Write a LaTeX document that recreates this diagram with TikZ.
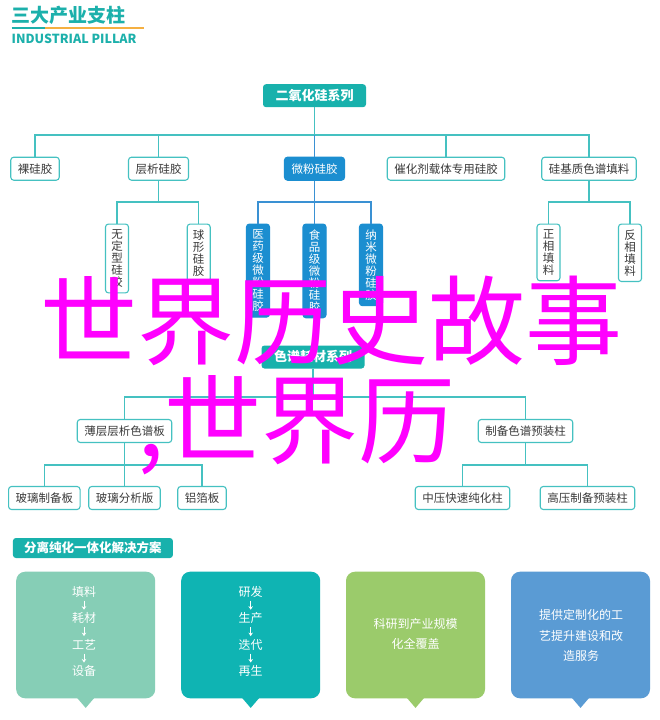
\documentclass[tikz,border=0pt]{standalone}
\usepackage{fontspec}
\setmainfont{Noto Sans CJK SC}
\usetikzlibrary{arrows.meta,positioning}

\definecolor{tealline}{HTML}{45C1C1}
\definecolor{tealfill}{HTML}{18B1AC}
\definecolor{bluefill}{HTML}{1B8ED0}
\definecolor{blueline}{HTML}{3A91D3}
\definecolor{headteal}{HTML}{1CB0AB}
\definecolor{headorange}{HTML}{F5B041}
\definecolor{txtgray}{HTML}{3A3A3A}
\definecolor{mint}{HTML}{86CEB6}
\definecolor{seateal}{HTML}{0FB4B3}
\definecolor{leafgreen}{HTML}{9BCB6B}
\definecolor{skyblue}{HTML}{5A9BD4}
\definecolor{wmpink}{HTML}{FF00FF}

\begin{document}
\begin{tikzpicture}[
  x=1pt, y=-1pt,
  node distance=14pt,
  rootbox/.style={fill=tealfill, text=white, rounded corners=3pt,
              font=\bfseries\fontsize{13}{14}\selectfont, minimum width=103pt, minimum height=23pt},
  leaf/.style={draw=tealline, fill=white, line width=1.1pt, rounded corners=3pt, text=txtgray,
              font=\fontsize{11.5}{12}\selectfont, inner xsep=7pt, inner ysep=0pt, minimum height=23pt},
  leafb/.style={leaf, draw=bluefill, fill=bluefill, text=white},
  vleaf/.style={leaf, anchor=north, align=center, inner xsep=0pt, inner ysep=5.5pt,
              minimum width=23pt, minimum height=0pt},
  vleafb/.style={vleaf, draw=bluefill, fill=bluefill, text=white},
  ln/.style={draw=tealline, line width=1.1pt},
  lnb/.style={draw=blueline, line width=1.1pt},
  panel/.style={rounded corners=9pt, minimum width=139pt, minimum height=126.6pt},
  word/.style={text=white, font=\fontsize{12}{12}\selectfont, inner sep=0pt, minimum height=12pt},
  ptext/.style={text=white, font=\fontsize{12}{20.5}\selectfont, align=center},
  dn/.style={-{Stealth[length=3.5pt,width=4.5pt]}, draw=white, line width=1pt,
              shorten <=2.5pt, shorten >=2.5pt},
  wm/.style={text=wmpink, font=\fontsize{97}{97}\selectfont, inner sep=0pt, anchor=base west}
]
\useasboundingbox (0,0) rectangle (660,720);
\fill[white] (0,0) rectangle (660,720);

% header
\node[anchor=west, inner sep=0pt, text=headteal, font=\bfseries\fontsize{19}{19}\selectfont] (title) at (11,15) {三大产业支柱};
\node[anchor=west, inner sep=0pt, text=headteal, font=\bfseries\fontsize{12.5}{13}\selectfont] (subtitle) at (11.5,38.5) {INDUSTRIAL PILLAR};
\draw[headteal, line width=2pt] (11.7,28) -- (45,28);
\draw[headorange, line width=2pt] (45,28) -- (144,28);

% silica tree
\node[rootbox] (silica) at (314.5,95.7) {二氧化硅系列};
\node[leaf] (bare) at (35,168.7) {裸硅胶};
\node[leaf] (chrom) at (158.5,168.7) {层析硅胶};
\node[leafb] (micro) at (314.5,168.7) {微粉硅胶};
\node[leaf] (cat) at (446,168.7) {催化剂载体专用硅胶};
\node[leaf] (fill) at (589,168.7) {硅基质色谱填料};

\node[vleaf] (amorph) at (117,223.5) {无\\定\\型\\硅\\胶};
\node[vleaf] (sphere) at (198.7,223.5) {球\\形\\硅\\胶};
\node[vleafb] (pharma) at (258,223.5) {医\\药\\级\\微\\粉\\硅\\胶};
\node[vleafb] (food) at (314.5,223.5) {食\\品\\级\\微\\粉\\硅\\胶};
\node[vleafb] (nano) at (371,223.5) {纳\\米\\微\\粉\\硅\\胶};
\node[vleaf] (normal) at (548.5,223.5) {正\\相\\填\\料};
\node[vleaf] (reverse) at (630,223.5) {反\\相\\填\\料};

\coordinate (sbus) at (314.5,135);
\coordinate (cbus) at (158.5,202);
\coordinate (mbus) at (314.5,202);
\coordinate (fbus) at (589,202);

\draw[ln] (silica) -- (sbus);
\draw[ln] (sbus) -| (bare);
\draw[ln] (sbus) -| (chrom);
\draw[ln] (sbus) -| (cat);
\draw[ln] (sbus) -| (fill);
\draw[lnb] (sbus) -- (micro);
\draw[ln] (chrom) -- (cbus) -| (amorph);
\draw[ln] (cbus) -| (sphere);
\draw[lnb] (micro) -- (mbus) -| (pharma);
\draw[lnb] (mbus) -- (food);
\draw[lnb] (mbus) -| (nano);
\draw[ln] (fill) -- (fbus) -| (normal);
\draw[ln] (fbus) -| (reverse);

% consumables tree
\node[rootbox] (consum) at (313,357) {色谱耗材系列};
\node[leaf] (tlc) at (124.5,431) {薄层层析色谱板};
\node[leaf] (column) at (525.5,431) {制备色谱预装柱};
\node[leaf] (glassprep) at (44.3,498) {玻璃制备板};
\node[leaf] (glassana) at (124.5,498) {玻璃分析版};
\node[leaf] (foil) at (202,498) {铝箔板};
\node[leaf] (midp) at (462.5,498) {中压快速纯化柱};
\node[leaf] (highp) at (587.5,498) {高压制备预装柱};

\coordinate (kbus) at (313,397);
\coordinate (tbus) at (124.5,465);
\coordinate (pbus) at (525.5,465);

\draw[ln] (consum) -- (kbus);
\draw[ln] (kbus) -| (tlc);
\draw[ln] (kbus) -| (column);
\draw[ln] (tlc) -- (tbus) -| (glassprep);
\draw[ln] (tbus) -- (glassana);
\draw[ln] (tbus) -| (foil);
\draw[ln] (column) -- (pbus) -| (midp);
\draw[ln] (pbus) -| (highp);

% solutions
\node[anchor=west, fill=tealfill, text=white, rounded corners=3pt, minimum width=160pt, minimum height=20pt,
      font=\bfseries\fontsize{12.5}{13}\selectfont] (sol) at (12.7,548) {分离纯化一体化解决方案};

\node[panel, fill=mint] (p1) at (85.7,635) {};
\node[panel, fill=seateal] (p2) at (250.7,635) {};
\node[panel, fill=leafgreen] (p3) at (415.5,635) {};
\node[panel, fill=skyblue] (p4) at (580.5,635) {};
\fill[mint] ([xshift=-8.5pt,yshift=0.5pt]p1.south) -- ([xshift=8.5pt,yshift=0.5pt]p1.south) -- ([yshift=-9.4pt]p1.south) -- cycle;
\fill[seateal] ([xshift=-8.5pt,yshift=0.5pt]p2.south) -- ([xshift=8.5pt,yshift=0.5pt]p2.south) -- ([yshift=-9.4pt]p2.south) -- cycle;
\fill[leafgreen] ([xshift=-8.5pt,yshift=0.5pt]p3.south) -- ([xshift=8.5pt,yshift=0.5pt]p3.south) -- ([yshift=-9.4pt]p3.south) -- cycle;
\fill[skyblue] ([xshift=-8.5pt,yshift=0.5pt]p4.south) -- ([xshift=8.5pt,yshift=0.5pt]p4.south) -- ([yshift=-9.4pt]p4.south) -- cycle;

\node[word] (filler) at (84,592) {填料};
\node[word, below=of filler] (consumable) {耗材};
\node[word, below=of consumable] (craft) {工艺};
\node[word, below=of craft] (equip) {设备};
\draw[dn] (filler) -- (consumable);
\draw[dn] (consumable) -- (craft);
\draw[dn] (craft) -- (equip);

\node[word] (rnd) at (250.7,592) {研发};
\node[word, below=of rnd] (prod) {生产};
\node[word, below=of prod] (iter) {迭代};
\node[word, below=of iter] (regen) {再生};
\draw[dn] (rnd) -- (prod);
\draw[dn] (prod) -- (iter);
\draw[dn] (iter) -- (regen);

\node[ptext] (scale) at (415.5,634) {科研到产业规模\\化全覆盖};
\node[ptext] (custom) at (581,635.4) {提供定制化的工\\艺提升建设和改\\造服务};

% overlay text
\node[wm] (wmone) at (40,357) {世界历史故事};
\node[wm] (wmtwo) at (137,456) {,世界历};
\end{tikzpicture}
\end{document}
